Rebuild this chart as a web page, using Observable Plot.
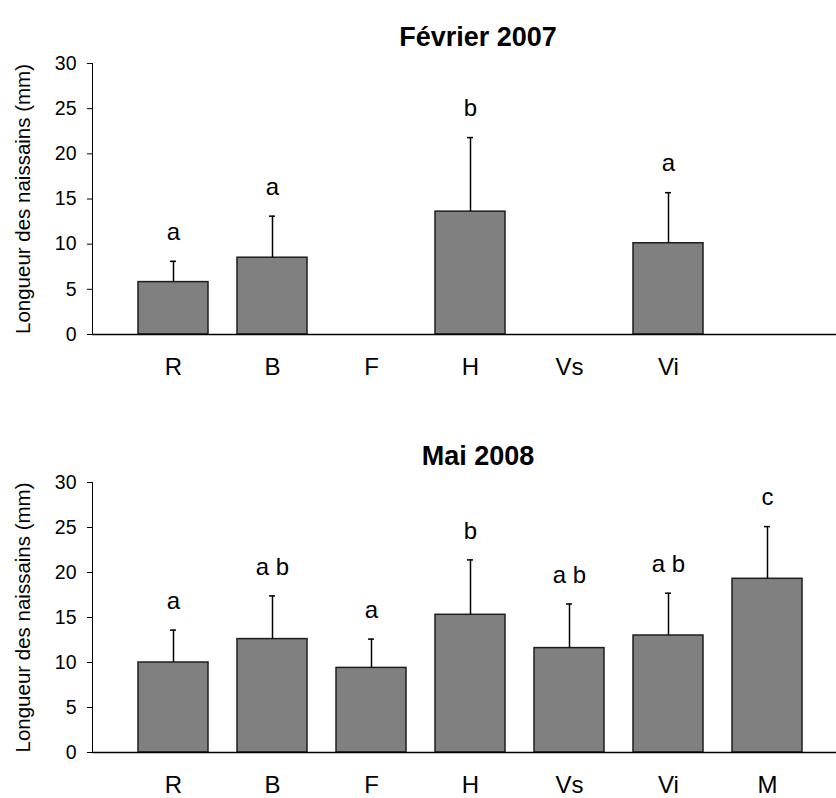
<!DOCTYPE html>
<html>
<head>
<meta charset="utf-8">
<script src="https://cdn.jsdelivr.net/npm/d3@7"></script>
<script src="https://cdn.jsdelivr.net/npm/@observablehq/plot@0.6"></script>
<style>
  html, body { margin: 0; padding: 0; background: #fff; }
  #chart svg { display: block; }
</style>
</head>
<body>
<div id="chart"></div>
<script>
// ---- data ----
const sites = ["R", "B", "F", "H", "Vs", "Vi", "M"];
const yTicks = [0, 5, 10, 15, 20, 25, 30];
const yLabel = "Longueur des naissains (mm)";

// Février 2007
const febTitle = "Février 2007";
const febTickSites = ["R", "B", "F", "H", "Vs", "Vi"];
const febSites = ["R", "B", "H", "Vi"];
const febMean = [5.8, 8.5, 13.6, 10.1];
const febSd = [2.3, 4.6, 8.2, 5.6];
const febGroup = ["a", "a", "b", "a"];

// Mai 2008
const maiTitle = "Mai 2008";
const maiTickSites = ["R", "B", "F", "H", "Vs", "Vi", "M"];
const maiSites = ["R", "B", "F", "H", "Vs", "Vi", "M"];
const maiMean = [10.0, 12.6, 9.4, 15.3, 11.6, 13.0, 19.3];
const maiSd = [3.6, 4.8, 3.2, 6.1, 4.9, 4.7, 5.8];
const maiGroup = ["a", "a b", "a", "b", "a b", "a b", "c"];

const FONT = "'Liberation Sans', Arial, Helvetica, sans-serif";

function panel(title, tickSites, names, means, sds, groups, height, marginBottom) {
  const data = names.map((s, i) => ({site: s, mean: means[i], sd: sds[i], top: means[i] + sds[i], group: groups[i]}));
  return Plot.plot({
    width: 836,
    height,
    marginLeft: 92,
    marginRight: 0,
    marginTop: 63,
    marginBottom,
    style: {fontFamily: FONT, fontSize: "19.5px", color: "#000", background: "#fff"},
    x: {domain: sites, range: [137, 802], paddingInner: 0.294, paddingOuter: 0},
    y: {domain: [0, 30], ticks: yTicks, tickSize: 5, tickPadding: 11, line: true, label: null},
    marks: [
      Plot.barY(data, {x: "site", y: "mean", fill: "#808080", stroke: "#1e1e1e", strokeWidth: 1.5}),
      Plot.ruleX(data, {x: "site", y1: "mean", y2: "top", stroke: "#000", strokeWidth: 1.5}),
      Plot.tickY(data, {x: "site", y: "top", insetLeft: 32, insetRight: 32, stroke: "#000", strokeWidth: 1.5}),
      Plot.text(data, {x: "site", y: "top", text: "group", dy: -29, fontSize: 24, fill: "#000", lineAnchor: "middle"}),
      Plot.ruleY([0], {stroke: "#000", strokeWidth: 1.5}),
      Plot.axisX({tickSize: 0, tickPadding: 23, fontSize: 24, label: null,
                  tickFormat: d => tickSites.includes(d) ? d : ""}),
      Plot.text([yLabel], {frameAnchor: "left", textAnchor: "middle", rotate: -90, dx: -69, fontSize: 20.5, fill: "#000"}),
      Plot.text([title], {frameAnchor: "top", dx: 13.5, dy: -37, fontSize: 27, fontWeight: "bold", fill: "#000"})
    ]
  });
}

const root = document.getElementById("chart");
root.appendChild(panel(febTitle, febTickSites, febSites, febMean, febSd, febGroup, 419, 85));
root.appendChild(panel(maiTitle, maiTickSites, maiSites, maiMean, maiSd, maiGroup, 379, 46));
</script>
</body>
</html>
